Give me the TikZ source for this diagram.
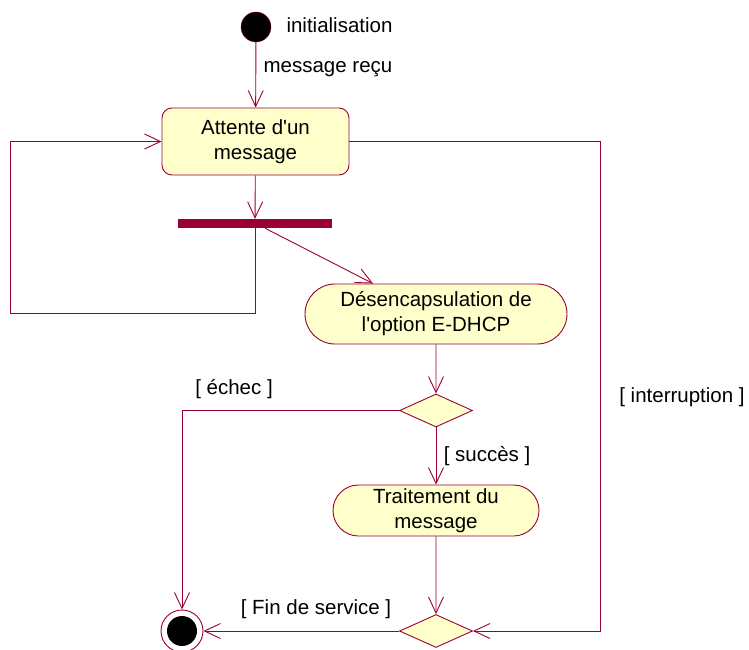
\documentclass[tikz,border=0pt]{standalone}
\usepackage{fontspec}
\setmainfont{Liberation Sans}
\usetikzlibrary{arrows.meta,shapes.geometric,shapes.misc}
\definecolor{umlline}{HTML}{990033}
\definecolor{umlfill}{HTML}{FFFFCC}

\begin{document}
\begin{tikzpicture}[x=1pt, y=-1pt,
  every node/.style={font=\fontsize{20.5}{25}\selectfont},
  state/.style={draw=umlline, fill=umlfill, line width=0.9pt, rounded corners=10pt,
    minimum width=187pt, minimum height=67pt, align=center, inner sep=2pt},
  activity/.style={rounded rectangle, draw=umlline, fill=umlfill, line width=0.9pt,
    align=center, inner sep=2pt},
  choice/.style={diamond, draw=umlline, fill=umlfill, line width=0.9pt,
    minimum width=73pt, minimum height=33pt, inner sep=0pt},
  forkbar/.style={fill=umlline, minimum width=154pt, minimum height=9pt, inner sep=0pt},
  initstate/.style={circle, draw=umlline, fill=black, minimum size=30pt, inner sep=0pt},
  finalstate/.style={circle, draw=umlline, fill=white, line width=0.9pt, minimum size=42pt,
    inner sep=0pt, path picture={\fill[black] (path picture bounding box.center) circle (15pt);}},
  flow/.style={draw=umlline, line width=0.9pt, -{Straight Barb[length=16pt, width=15pt, line width=0.9pt]}},
  guard/.style={text=black},
]
\useasboundingbox (0,0) rectangle (749,650);

\node[initstate]  (init)    at (256,27) {};
\node[state]      (attente) at (255.5,141.5) {Attente d\textquotesingle un\\message};
\node[forkbar]    (fork)    at (255,223.5) {};
\node[activity, minimum width=266pt, minimum height=60pt] (desenc) at (436,314)
  {Désencapsulation de\\l\textquotesingle option E-DHCP};
\node[choice]     (test)    at (436,410.5) {};
\node[activity, minimum width=210pt, minimum height=51pt] (traite) at (436,510.5)
  {Traitement du\\message};
\node[choice]     (merge)   at (436,631) {};
\node[finalstate] (fin)     at (182,631) {};

\coordinate (loopcorner) at (10,313);
\coordinate (intcorner)  at (600,631);

\node[guard, anchor=west] at (283,25) {initialisation};

\draw[flow] (init) -- node[guard, right=4pt, pos=0.42] {message reçu} (attente);
\draw[flow] (attente) -- (fork);
\draw[flow] (fork.south) |- (loopcorner) |- (attente.west);
\draw[flow] ([xshift=10pt]fork.south) -- ([xshift=-63pt]desenc.north);
\draw[flow] (desenc) -- (test);
\draw[flow] (test.west) -| (fin.north);
\draw[flow] (test) -- node[guard, right=4pt, pos=0.5] {[ succès ]} (traite);
\draw[flow] (traite) -- (merge);
\draw[flow] (merge.west) -- (fin.east);
\draw[flow] (attente.east) -| (intcorner) -- (merge.east);

\node[guard] at (234,389) {[ échec ]};
\node[guard] at (316,609) {[ Fin de service ]};
\node[guard] at (682,397) {[ interruption ]};
\end{tikzpicture}
\end{document}
